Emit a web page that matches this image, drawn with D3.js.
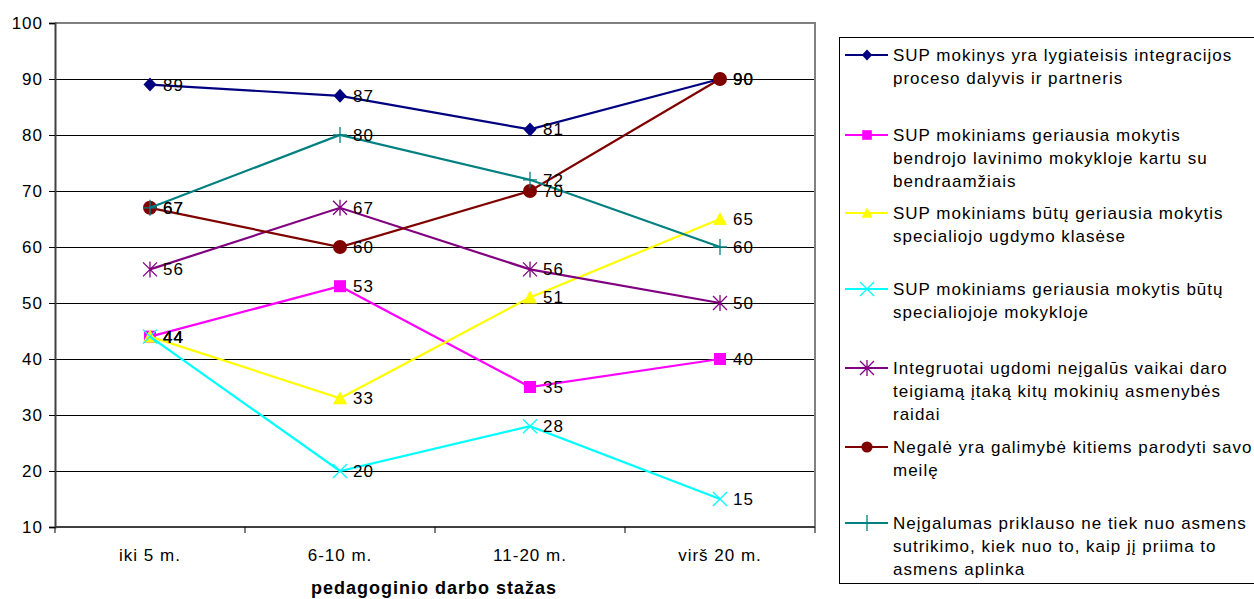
<!DOCTYPE html>
<html>
<head>
<meta charset="utf-8">
<script src="https://cdn.jsdelivr.net/npm/d3@7"></script>
<style>
  html, body { margin: 0; padding: 0; background: #fff; }
  svg { display: block; font-family: "Liberation Sans", Arial, sans-serif; }
  svg text { letter-spacing: 1px; }
</style>
</head>
<body>
<svg id="chart" width="1254" height="599"></svg>
<script>
// Experience groups (x axis)
const categories = ["iki 5 m.", "6-10 m.", "11-20 m.", "virš 20 m."];

// Percent of agreement per statement, one array per series
const s1 = [89, 87, 81, 90];
const s2 = [44, 53, 35, 40];
const s3 = [44, 33, 51, 65];
const s4 = [44, 20, 28, 15];
const s5 = [56, 67, 56, 50];
const s6 = [67, 60, 70, 90];
const s7 = [67, 80, 72, 60];

const seriesNames = [
  ["SUP mokinys yra lygiateisis integracijos", "proceso dalyvis ir partneris"],
  ["SUP mokiniams geriausia mokytis", "bendrojo lavinimo mokykloje kartu su", "bendraamžiais"],
  ["SUP mokiniams būtų geriausia mokytis", "specialiojo ugdymo klasėse"],
  ["SUP mokiniams geriausia mokytis būtų", "specialiojoje mokykloje"],
  ["Integruotai ugdomi neįgalūs vaikai daro", "teigiamą įtaką kitų mokinių asmenybės", "raidai"],
  ["Negalė yra galimybė kitiems parodyti savo", "meilę"],
  ["Neįgalumas priklauso ne tiek nuo asmens", "sutrikimo, kiek nuo to, kaip jį priima to", "asmens aplinka"]
];
const seriesColors = ["#000080", "#FF00FF", "#FFFF00", "#00FFFF", "#800080", "#800000", "#008080"];
const seriesMarkers = ["diamond", "square", "triangle", "x", "star", "circle", "plus"];
const yTicks = [10, 20, 30, 40, 50, 60, 70, 80, 90, 100];
const xTitle = "pedagoginio darbo stažas";

const values = [s1, s2, s3, s4, s5, s6, s7];
const series = values.map((v, i) => ({
  name: seriesNames[i], color: seriesColors[i], marker: seriesMarkers[i], values: v
}));

const svg = d3.select("#chart");
const plot = { left: 55, top: 23, right: 815, bottom: 527 };

const x = d3.scaleBand().domain(categories).range([plot.left, plot.right]);
const y = d3.scaleLinear().domain([10, 100]).range([plot.bottom, plot.top]);
const cx = c => x(c) + x.bandwidth() / 2;

// Horizontal gridlines
svg.append("g").selectAll("line").data(yTicks.filter(t => t > 10 && t < 100)).join("line")
  .attr("x1", plot.left).attr("x2", plot.right)
  .attr("y1", d => y(d) + 0.5).attr("y2", d => y(d) + 0.5)
  .attr("stroke", "#000").attr("stroke-width", 1);

// Plot area frame (top & right)
svg.append("path")
  .attr("d", `M${plot.left},${plot.top}H${plot.right}V${plot.bottom}`)
  .attr("fill", "none").attr("stroke", "#808080").attr("stroke-width", 2);

// Y axis
const yAxis = d3.axisLeft(y).tickValues(yTicks).tickSize(6).tickPadding(6);
const gy = svg.append("g").attr("transform", `translate(${plot.left},0)`).call(yAxis);
gy.attr("font-size", null).attr("font-family", null);
gy.select(".domain").attr("stroke", "#404040").attr("stroke-width", 2);
gy.selectAll(".tick line").attr("stroke", "#000");
gy.selectAll(".tick text").style("font-size", "17px").attr("fill", "#000");

// X axis with ticks between categories
const boundaries = categories.map(c => x(c)).concat([plot.right]);
const gx = svg.append("g");
gx.append("line").attr("x1", plot.left).attr("x2", plot.right)
  .attr("y1", plot.bottom).attr("y2", plot.bottom)
  .attr("stroke", "#404040").attr("stroke-width", 2);
gx.selectAll("line.tk").data(boundaries).join("line").attr("class", "tk")
  .attr("x1", d => d).attr("x2", d => d)
  .attr("y1", plot.bottom).attr("y2", plot.bottom + 6)
  .attr("stroke", "#000");
gx.selectAll("text").data(categories).join("text")
  .attr("x", d => cx(d)).attr("y", plot.bottom + 34)
  .attr("text-anchor", "middle").style("font-size", "17px").text(d => d);

svg.append("text").attr("x", (plot.left + plot.right) / 2 - 1).attr("y", 594)
  .attr("text-anchor", "middle").style("font-size", "18px").attr("font-weight", "bold")
  .text(xTitle);

// Marker drawing
function drawMarker(g, type, color, px, py, scale = 1) {
  const k = scale;
  switch (type) {
    case "diamond":
      g.append("path").attr("d", `M${px},${py - 7 * k}L${px + 6.5 * k},${py}L${px},${py + 7 * k}L${px - 6.5 * k},${py}Z`)
        .attr("fill", color);
      break;
    case "square":
      g.append("rect").attr("x", px - 6 * k).attr("y", py - 6 * k).attr("width", 12 * k).attr("height", 12 * k)
        .attr("fill", color);
      break;
    case "triangle":
      g.append("path").attr("d", `M${px},${py - 7 * k}L${px + 7 * k},${py + 6 * k}L${px - 7 * k},${py + 6 * k}Z`)
        .attr("fill", color);
      break;
    case "x":
      g.append("path").attr("d", `M${px - 7},${py - 7}L${px + 7},${py + 7}M${px - 7},${py + 7}L${px + 7},${py - 7}`)
        .attr("stroke", color).attr("stroke-width", 1.3);
      break;
    case "star":
      g.append("path").attr("d", `M${px - 7},${py - 7}L${px + 7},${py + 7}M${px - 7},${py + 7}L${px + 7},${py - 7}M${px},${py - 8}V${py + 8}`)
        .attr("stroke", color).attr("stroke-width", 1.3);
      break;
    case "circle":
      g.append("circle").attr("cx", px).attr("cy", py).attr("r", 7 * k).attr("fill", color);
      break;
    case "plus":
      g.append("path").attr("d", `M${px - 7},${py}H${px + 7}M${px},${py - 8}V${py + 8}`)
        .attr("stroke", color).attr("stroke-width", 1.3);
      break;
  }
}

const line = d3.line().x((d, i) => cx(categories[i])).y(d => y(d));

series.forEach(s => {
  const g = svg.append("g");
  g.append("path").attr("d", line(s.values)).attr("fill", "none")
    .attr("stroke", s.color).attr("stroke-width", 2.2);
  s.values.forEach((v, i) => drawMarker(g, s.marker, s.color, cx(categories[i]), y(v)));
});

// Value labels
series.forEach(s => {
  svg.append("g").selectAll("text").data(s.values).join("text")
    .attr("x", (d, i) => cx(categories[i]) + 13)
    .attr("y", d => y(d) + 6)
    .style("font-size", "17px").attr("fill", "#000")
    .text(d => d);
});

// Legend
const lg = svg.append("g");
lg.append("rect").attr("x", 839.5).attr("y", 37.5).attr("width", 430).attr("height", 546)
  .attr("fill", "#fff").attr("stroke", "#000").attr("stroke-width", 1);
const legendY = [55, 135, 213, 289, 368, 447, 523];
series.forEach((s, i) => {
  const ly = legendY[i];
  lg.append("line").attr("x1", 845).attr("x2", 888).attr("y1", ly).attr("y2", ly)
    .attr("stroke", s.color).attr("stroke-width", 2.2);
  drawMarker(lg.append("g"), s.marker, s.color, 867, ly, 0.8);
  s.name.forEach((t, k) => {
    lg.append("text").attr("x", 893).attr("y", ly + 6 + k * 23)
      .style("font-size", "17px").attr("fill", "#000").text(t);
  });
});
</script>
</body>
</html>
